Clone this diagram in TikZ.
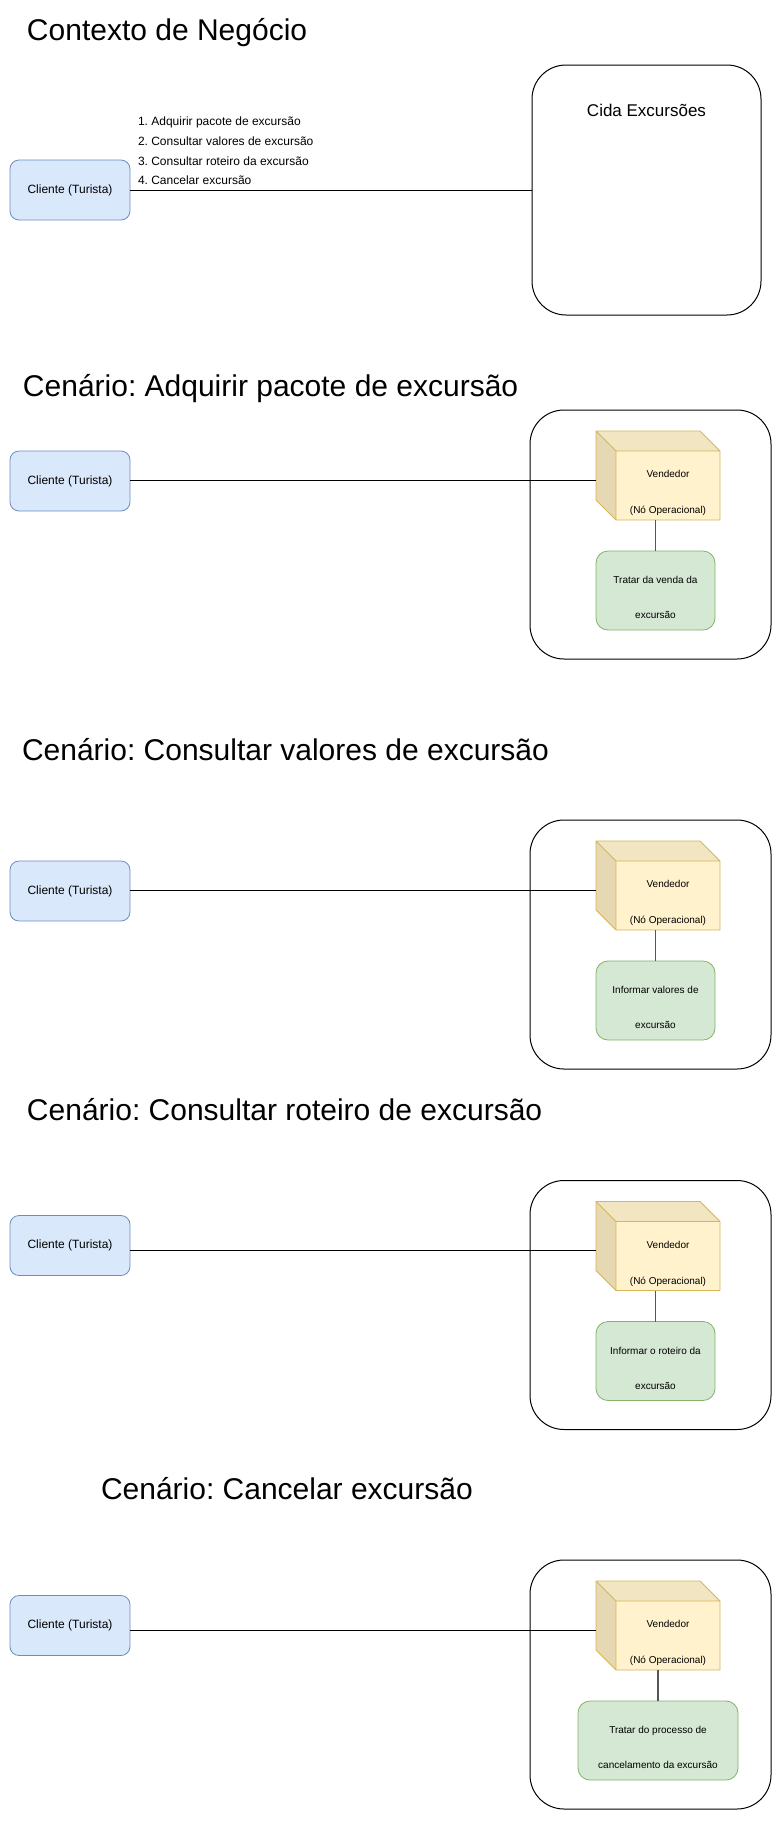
\documentclass[tikz,border=0pt]{standalone}
\usepackage{fontspec}
\setmainfont{Liberation Sans}
\frenchspacing
\definecolor{cfill}{HTML}{DAE8FC}
\definecolor{cdraw}{HTML}{6C8EBF}
\definecolor{yfill}{HTML}{FFF2CC}
\definecolor{ydraw}{HTML}{D6B656}
\definecolor{ytop}{HTML}{F2E6C2}
\definecolor{yleft}{HTML}{E6D8B2}
\definecolor{gfill}{HTML}{D5E8D4}
\definecolor{gdraw}{HTML}{82B366}
\definecolor{lgray}{HTML}{555555}
\begin{document}
\begin{tikzpicture}[x=1pt,y=-1pt,
  every node/.style={inner sep=0pt, outer sep=0pt},
  title/.style={anchor=base west, font=\fontsize{30}{36}\selectfont},
  small/.style={font=\fontsize{12}{14}\selectfont},
  tiny/.style={font=\fontsize{10}{12}\selectfont, anchor=base},
  cliente/.style={draw=cdraw, fill=cfill, rounded corners=9pt, minimum width=120pt, minimum height=60pt, font=\fontsize{12}{14}\selectfont, line width=0.8pt},
  frame/.style={draw=black, rounded corners=34pt, line width=1pt},
  acao/.style={draw=gdraw, fill=gfill, rounded corners=12pt, minimum height=79pt, line width=0.8pt},
  cubo/.style={minimum width=124pt, minimum height=89pt},
  link/.style={draw=black, line width=1pt},
  sublink/.style={draw=lgray, line width=1.2pt}]
\useasboundingbox (0,0) rectangle (781,1821);
\fill[white] (0,0) rectangle (781,1821);

% Section 1
\node[title] (t1) at (27,40) {Contexto de Negócio};
\node[cliente] (c1) at (70,190) {Cliente (Turista)};
\node[frame, minimum width=229pt, minimum height=250pt] (cida) at (646.5,190) {};
\node[anchor=base, font=\fontsize{17}{20}\selectfont] (cidat) at (646.5,116) {Cida Excursões};
\node[small, anchor=base west] (l1) at (138,125) {1. Adquirir pacote de excursão};
\node[small, anchor=base west] (l2) at (138,145) {2. Consultar valores de excursão};
\node[small, anchor=base west] (l3) at (138,165) {3. Consultar roteiro da excursão};
\node[small, anchor=base west] (l4) at (138,184.5) {4. Cancelar excursão};
\draw[link] (c1.east) -- (cida.west);

\foreach \i/\o/\cy/\ly/\tx/\ty/\ttl/\gx/\gw/\ga/\gb in {
  2/0/481/480/23/396/{Cenário: Adquirir pacote de excursão}/655.5/119pt/{Tratar da venda da}/{excursão},
  3/410/891/890/22/760/{Cenário: Consultar valores de excursão}/655.5/119pt/{Informar valores de}/{excursão},
  4/770.5/1245.5/1250.5/27/1120/{Cenário: Consultar roteiro de excursão}/655.5/119pt/{Informar o roteiro da}/{excursão},
  5/1150/1625.5/1630/101/1499/{Cenário: Cancelar excursão}/658/160pt/{Tratar do processo de}/{cancelamento da excursão}}
{
  \node[title] (t\i) at (\tx,\ty) {\ttl};
  \node[frame, minimum width=241pt, minimum height=249pt] (f\i) at (650.5,534.5+\o) {};
  \node[cliente] (c\i) at (70,\cy) {Cliente (Turista)};
  % cube
  \node[cubo] (v\i) at (658,475.5+\o) {};
  \fill[ytop] (v\i.north west) -- ([xshift=-20pt]v\i.north east) -- ([yshift=-20pt]v\i.north east) -- ([shift={(20,20)}]v\i.north west) -- cycle;
  \fill[yleft] (v\i.north west) -- ([shift={(20,20)}]v\i.north west) -- ([xshift=20pt]v\i.south west) -- ([yshift=20pt]v\i.south west) -- cycle;
  \fill[yfill] ([shift={(20,20)}]v\i.north west) rectangle (v\i.south east);
  \draw[ydraw, line width=0.8pt, line join=round]
    (v\i.north west) -- ([xshift=-20pt]v\i.north east) -- ([yshift=-20pt]v\i.north east) -- (v\i.south east) -- ([xshift=20pt]v\i.south west) -- ([yshift=20pt]v\i.south west) -- cycle
    (v\i.north west) -- ([shift={(20,20)}]v\i.north west) -- ([yshift=-20pt]v\i.north east)
    ([shift={(20,20)}]v\i.north west) -- ([xshift=20pt]v\i.south west);
  \node[tiny] (va\i) at (668,477.5+\o) {Vendedor};
  \node[tiny] (vb\i) at (668,513.5+\o) {(Nó Operacional)};
  % connector
  \coordinate (ln\i) at (0,\ly);
  \draw[link] (c\i.east |- ln\i) -- (v\i.west |- ln\i);
  % action box
  \node[acao, minimum width=\gw] (g\i) at (\gx,590.5+\o) {};
  \node[tiny] (ga\i) at (\gx,583.5+\o) {\ga};
  \node[tiny] (gb\i) at (\gx,618.5+\o) {\gb};
  \draw[sublink] (g\i.north) -- (g\i.north |- v\i.south);
}
\end{tikzpicture}
\end{document}
